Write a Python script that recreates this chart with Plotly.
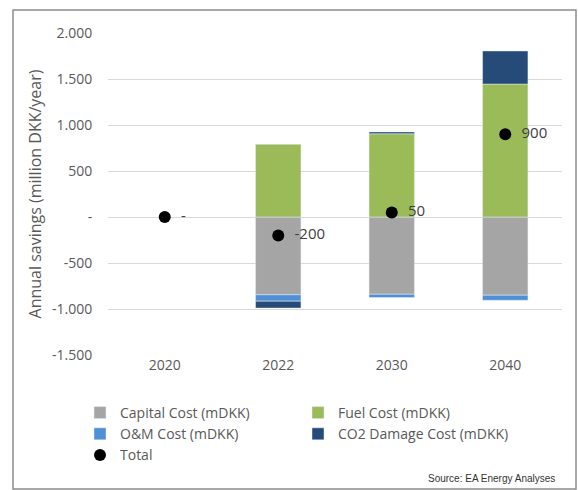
import plotly.graph_objects as go

years = ["2020", "2022", "2030", "2040"]
capital = [None, -845, -840, -850]
fuel = [None, 790, 905, 1445]
om = [None, -70, -35, -55]
co2 = [None, -75, 20, 360]
total = [0, -200, 50, 900]
total_labels = ["-", "-200", "50", "900"]

tick_vals = [2000, 1500, 1000, 500, 0, -500, -1000, -1500]
tick_text = ["2.000", "1.500", "1.000", "500", "-", "-500", "-1.000", "-1.500"]

font_family = "Open Sans"
grey_text = "#595959"

fig = go.Figure()
fig.add_trace(go.Bar(x=years, y=capital, name="Capital Cost (mDKK)", marker_color="#A5A5A5"))
fig.add_trace(go.Bar(x=years, y=fuel, name="Fuel Cost (mDKK)", marker_color="#9BBB59"))
fig.add_trace(go.Bar(x=years, y=om, name="O&M Cost (mDKK)", marker_color="#4F8FD6"))
fig.add_trace(go.Bar(x=years, y=co2, name="CO2 Damage Cost (mDKK)", marker_color="#264B78"))
fig.add_trace(go.Scatter(x=years, y=total, name="Total", mode="markers+text",
                         marker=dict(color="black", size=12),
                         text=["  " + t for t in total_labels], textposition="middle right",
                         textfont=dict(size=15, color="#404040", family=font_family)))

W, H = 578, 490
L, R, T, B = 108, 16, 33, 135
pw, ph = W - L - R, H - T - B

def px(x):
    return (x - L) / pw

def py(y):
    return (H - B - y) / ph

fig.add_shape(type="rect", xref="paper", yref="paper",
              x0=px(13), x1=px(576), y0=py(489), y1=py(10),
              line=dict(color="#8C8C8C", width=1.5), fillcolor="rgba(0,0,0,0)", layer="below")

fig.add_annotation(text="Source: EA Energy Analyses", xref="paper", yref="paper",
                   x=px(557), y=py(478), xanchor="right", yanchor="middle", showarrow=False,
                   font=dict(size=10, color="#333333", family="Liberation Sans"))

fig.update_layout(
    width=W, height=H,
    margin=dict(l=L, r=R, t=T, b=B),
    barmode="relative",
    bargap=0.6,
    plot_bgcolor="white", paper_bgcolor="white",
    font=dict(family=font_family, color=grey_text, size=14),
    showlegend=True,
    legend=dict(orientation="h", x=px(80), y=py(397), xanchor="left", yanchor="top",
                font=dict(size=14, color=grey_text, family=font_family),
                entrywidth=173, entrywidthmode="pixels", traceorder="normal"),
    xaxis=dict(showgrid=False, showline=False, ticks="", tickfont=dict(size=14, color=grey_text)),
    yaxis=dict(range=[-1500, 2000], tickvals=tick_vals, ticktext=tick_text,
               showgrid=True, gridcolor="#D9D9D9", gridwidth=1, zeroline=False,
               ticks="outside", ticklen=12, tickcolor="white",
               tickfont=dict(size=14, color=grey_text),
               title=dict(text="Annual savings (million DKK/year)", standoff=6,
                          font=dict(size=16, color=grey_text))),
)

fig.write_html("out.html")
